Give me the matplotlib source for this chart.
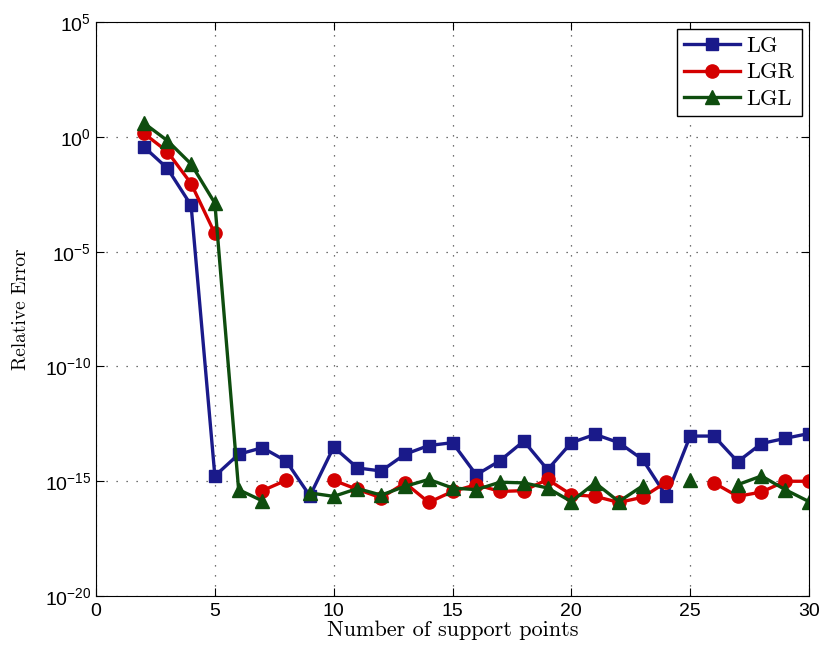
import numpy as np
import matplotlib
matplotlib.use("Agg")
import matplotlib.pyplot as plt

plt.rcParams['font.family'] = ['Liberation Sans', 'DejaVu Sans']
plt.rcParams['mathtext.fontset'] = 'custom'
plt.rcParams['mathtext.rm'] = 'Liberation Sans'
plt.rcParams['mathtext.it'] = 'Liberation Sans:italic'

# number of support points
n_points = np.arange(2, 31)

nan = np.nan
err_lg = [3.8e-01, 4.3e-02, 1.05e-03, 1.7e-15, 1.5e-14, 2.9e-14, 7.6e-15, 2.3e-16,
          3.1e-14, 3.8e-15, 2.8e-15, 1.5e-14, 3.6e-14, 4.8e-14, 1.9e-15, 7.9e-15,
          5.6e-14, 3.2e-15, 4.8e-14, 1.1e-13, 4.8e-14, 8.9e-15, 2.2e-16, 9.3e-14,
          9.3e-14, 7.1e-15, 4.4e-14, 7.4e-14, 1.2e-13]
err_lgr = [1.45, 2.3e-01, 9.3e-03, 6.2e-05, nan, 3.9e-16, 1.1e-15, nan,
           1.1e-15, 4.4e-16, 1.9e-16, 8.5e-16, 1.2e-16, 3.6e-16, 7.1e-16, 3.6e-16,
           3.9e-16, 1.2e-15, 2.6e-16, 2.2e-16, 1.2e-16, 2.0e-16, 9.3e-16, nan,
           8.5e-16, 2.2e-16, 3.4e-16, 1.0e-15, 1.0e-15]
err_lgl = [4.1, 6.9e-01, 6.6e-02, 1.3e-03, 4.3e-16, 1.4e-16, nan, 3.1e-16,
           2.2e-16, 4.8e-16, 2.5e-16, 6.0e-16, 1.2e-15, 5.1e-16, 4.3e-16, 9.1e-16,
           8.5e-16, 5.1e-16, 1.3e-16, 8.5e-16, 1.3e-16, 6.3e-16, nan, 1.1e-15,
           nan, 7.1e-16, 1.7e-15, 4.3e-16, 1.3e-16]

fig = plt.figure(figsize=(8.25, 6.5), dpi=100)
ax = fig.add_axes([0.1164, 0.083, 0.8642, 0.883])

ax.semilogy(n_points, err_lg, '-s', color='#1a1a8a', lw=2.4, ms=8.5, label='LG')
ax.semilogy(n_points, err_lgr, '-o', color='#d40000', lw=2.4, ms=9.5, label='LGR')
ax.semilogy(n_points, err_lgl, '-^', color='#0e4d0e', lw=2.4, ms=10, label='LGL')

ax.set_xlim(0, 30)
ax.set_ylim(1e-20, 1e5)
ax.set_xticks([0, 5, 10, 15, 20, 25, 30])
ax.set_yticks([1e-20, 1e-15, 1e-10, 1e-5, 1e0, 1e5])
ax.minorticks_off()
ax.tick_params(direction='in', top=True, right=True, length=6, labelsize=14)
ax.tick_params(axis='x', pad=5)
ax.grid(True, linestyle=(0, (1, 7)), color='#444444', linewidth=0.9)

# axis labels in a Computer Modern face, tick labels in sans
ax.set_xlabel('Number of support points', family='cmr10', fontsize=16)
ax.xaxis.set_label_coords(0.5, -0.043)
ax.xaxis.label.set_va('top')
ax.set_ylabel('Relative Error', family='cmr10', fontsize=14)
ax.yaxis.set_label_coords(-0.093, 0.5)

leg = ax.legend(loc='upper right', prop={'family': 'cmr10', 'size': 16},
                fancybox=False, edgecolor='black', framealpha=1,
                handlelength=2.5, handletextpad=0.3, borderpad=0.35,
                borderaxespad=0.3, labelspacing=0.3)
leg.get_frame().set_linewidth(1.0)

fig.savefig('out.png', dpi=100)
